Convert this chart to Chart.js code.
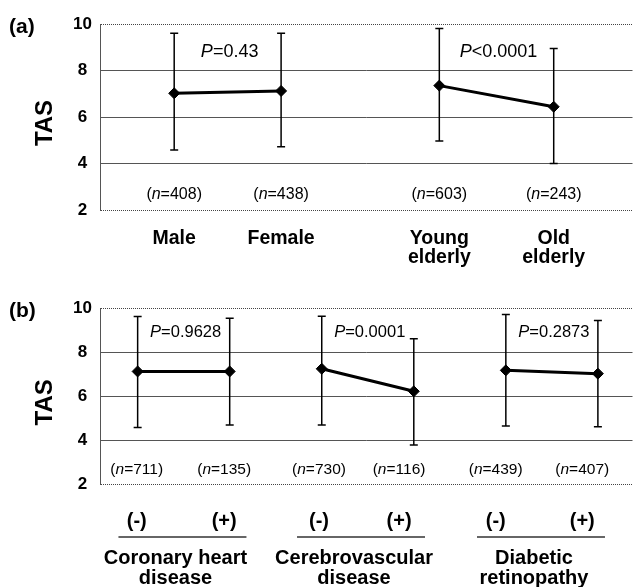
<!DOCTYPE html>
<html>
<head>
<meta charset="utf-8">
<script src="https://cdn.jsdelivr.net/npm/chart.js@4.4.1/dist/chart.umd.min.js"></script>
<style>
  html, body { margin: 0; padding: 0; background: #fff; }
  canvas { display: block; }
</style>
</head>
<body>
<canvas id="chartA" width="639" height="290"></canvas>
<canvas id="chartB" width="639" height="297"></canvas>
<script>
// (a) sex and age groups
const catsA = ['Male', 'Female', ['Young', 'elderly'], ['Old', 'elderly']];
const meanA = [7.02, 7.12, 7.35, 6.44];
const upperA = [9.60, 9.60, 9.81, 8.95];
const lowerA = [4.58, 4.72, 4.97, 4.00];
const nA = [408, 438, 603, 243];
const pA = ['P=0.43', 'P<0.0001'];

// (b) complications
const catsB = ['(-)', '(+)', '(-)', '(+)', '(-)', '(+)'];
const groupsB = [['Coronary heart', 'disease'], ['Cerebrovascular', 'disease'], ['Diabetic', 'retinopathy']];
const meanB = [7.13, 7.13, 7.25, 6.23, 7.18, 7.03];
const upperB = [9.62, 9.54, 9.63, 8.61, 9.71, 9.44];
const lowerB = [4.59, 4.70, 4.70, 3.79, 4.66, 4.62];
const nB = [711, 135, 730, 116, 439, 407];
const pB = ['P=0.9628', 'P=0.0001', 'P=0.2873'];

const yTicks = [2, 4, 6, 8, 10];

// where each group sits on the x axis (axis units)
const xA = [1, 2, 3.48, 4.55];
const xB = [1, 2, 3, 4, 5, 6];
const labelXB = [0.99, 1.94, 2.97, 3.84, 4.89, 5.83];

const FONT = '"Liberation Sans", Arial, sans-serif';
Chart.defaults.font.family = FONT;

// draw text pieces (font, text) side by side, centred on cx
function drawMixed(ctx, parts, cx, cy) {
  let w = 0;
  parts.forEach(function (p) { ctx.font = p[0]; w += ctx.measureText(p[1]).width; });
  let x = cx - w / 2;
  ctx.textAlign = 'left';
  parts.forEach(function (p) {
    ctx.font = p[0];
    ctx.fillText(p[1], x, cy);
    x += ctx.measureText(p[1]).width;
  });
}

function buildPanel(id, o) {
  const bars = [], caps = [], means = [];
  o.x.forEach(function (x, i) {
    bars.push({ x: x, y: o.lower[i] }, { x: x, y: o.upper[i] }, { x: x, y: null });
    caps.push({ x: x, y: o.lower[i] }, { x: x, y: o.upper[i] });
  });
  for (let i = 0; i < o.x.length; i += 2) {
    means.push({ x: o.x[i], y: o.mean[i] }, { x: o.x[i + 1], y: o.mean[i + 1] }, { x: o.x[i + 1], y: null });
  }

  const annotate = {
    id: 'annotate_' + id,
    afterDatasetsDraw: function (chart) {
      const ctx = chart.ctx, sx = chart.scales.x, sy = chart.scales.y, area = chart.chartArea;
      ctx.save();
      ctx.fillStyle = '#000';
      ctx.textBaseline = 'middle';

      // panel letter
      ctx.font = 'bold 21px ' + FONT;
      ctx.textAlign = 'left';
      ctx.fillText(o.letter, 9, area.top + 3);

      // y title
      ctx.save();
      ctx.translate(45, (area.top + area.bottom) / 2 + 6);
      ctx.rotate(-Math.PI / 2);
      ctx.font = 'bold 24px ' + FONT;
      ctx.textAlign = 'center';
      ctx.fillText('TAS', 0, 0);
      ctx.restore();

      // n labels
      const ny = sy.getPixelForValue(2.65);
      o.n.forEach(function (n, i) {
        const f = o.nSize + 'px ' + FONT;
        drawMixed(ctx, [[f, '('], ['italic ' + f, 'n'], [f, '=' + n + ')']], sx.getPixelForValue(o.labelX[i]), ny);
      });

      // P values
      const py = sy.getPixelForValue(o.pY);
      o.p.forEach(function (p, k) {
        const f = o.pSize + 'px ' + FONT;
        const cx = (sx.getPixelForValue(o.x[2 * k]) + sx.getPixelForValue(o.x[2 * k + 1])) / 2 + 2;
        drawMixed(ctx, [['italic ' + f, p.charAt(0)], [f, p.slice(1)]], cx, py);
      });

      // group names under the (-)/(+) pairs
      if (o.groups) {
        o.groups.forEach(function (g, k) {
          const cx = (sx.getPixelForValue(o.labelX[2 * k]) + sx.getPixelForValue(o.labelX[2 * k + 1])) / 2;
          ctx.strokeStyle = '#333';
          ctx.lineWidth = 1.5;
          ctx.beginPath();
          ctx.moveTo(cx + 2 - 64, area.bottom + 52.5);
          ctx.lineTo(cx + 2 + 64, area.bottom + 52.5);
          ctx.stroke();
          ctx.font = 'bold 20px ' + FONT;
          ctx.textAlign = 'center';
          ctx.fillText(g[0], cx - 5, area.bottom + 74);
          ctx.fillText(g[1], cx - 5, area.bottom + 93.5);
        });
      }
      ctx.restore();
    }
  };

  return new Chart(document.getElementById(id), {
    type: 'line',
    data: {
      datasets: [
        { data: means, borderColor: '#000', borderWidth: 3, pointStyle: 'rectRot', pointRadius: 5.5,
          pointBackgroundColor: '#000', pointBorderColor: '#000', pointBorderWidth: 1, spanGaps: false, order: 0 },
        { data: caps, showLine: false, pointStyle: 'line', pointRadius: 4,
          pointBorderColor: '#000', pointBorderWidth: 1.5, order: 1 },
        { data: bars, borderColor: '#000', borderWidth: 1.5, pointRadius: 0, spanGaps: false, order: 2 }
      ]
    },
    options: {
      responsive: false,
      animation: false,
      events: [],
      layout: { padding: { top: o.padTop, right: 1, left: 0, bottom: 0 } },
      plugins: { legend: { display: false }, tooltip: { enabled: false } },
      scales: {
        x: {
          type: 'linear', min: o.xMin, max: o.xMax,
          grid: { display: false }, border: { display: false },
          afterBuildTicks: function (s) { s.ticks = o.labelX.map(function (v) { return { value: v }; }); },
          afterFit: function (s) { s.height = o.xAxisH; },
          ticks: {
            autoSkip: false, maxRotation: 0, minRotation: 0, padding: o.tickPad, color: '#000',
            font: { weight: 'bold', size: o.catSize, lineHeight: o.catLine },
            callback: function (v, i) { return o.cats[i]; }
          }
        },
        y: {
          min: 2, max: 10,
          afterBuildTicks: function (s) { s.ticks = yTicks.map(function (v) { return { value: v }; }); },
          afterFit: function (s) { s.width = 100; },
          grid: {
            drawTicks: false, lineWidth: 1,
            color: function (c) { return (c.tick && (c.tick.value === 2 || c.tick.value === 10)) ? '#444' : '#555'; }
          },
          border: {
            color: '#555',
            dash: function (c) { return (c.tick && c.tick.value > 2 && c.tick.value < 10) ? [] : [1, 1]; }
          },
          ticks: { crossAlign: 'center', padding: 8, color: '#000', font: { weight: 'bold', size: 17 } }
        }
      }
    },
    plugins: [annotate]
  });
}

buildPanel('chartA', {
  letter: '(a)', cats: catsA, mean: meanA, upper: upperA, lower: lowerA, n: nA, p: pA,
  x: xA, labelX: xA, xMin: 0.306, xMax: 5.287,
  padTop: 24, xAxisH: 80, tickPad: 10.5, catSize: 19.5, catLine: 1.0,
  nSize: 16, pSize: 18, pY: 8.8
});

buildPanel('chartB', {
  letter: '(b)', cats: catsB, groups: groupsB, mean: meanB, upper: upperB, lower: lowerB, n: nB, p: pB,
  x: xB, labelX: labelXB, xMin: 0.591, xMax: 6.376,
  padTop: 17.5, xAxisH: 102.5, tickPad: 16.5, catSize: 20, catLine: 1.2,
  nSize: 15.5, pSize: 16.5, pY: 8.9
});
</script>
</body>
</html>
